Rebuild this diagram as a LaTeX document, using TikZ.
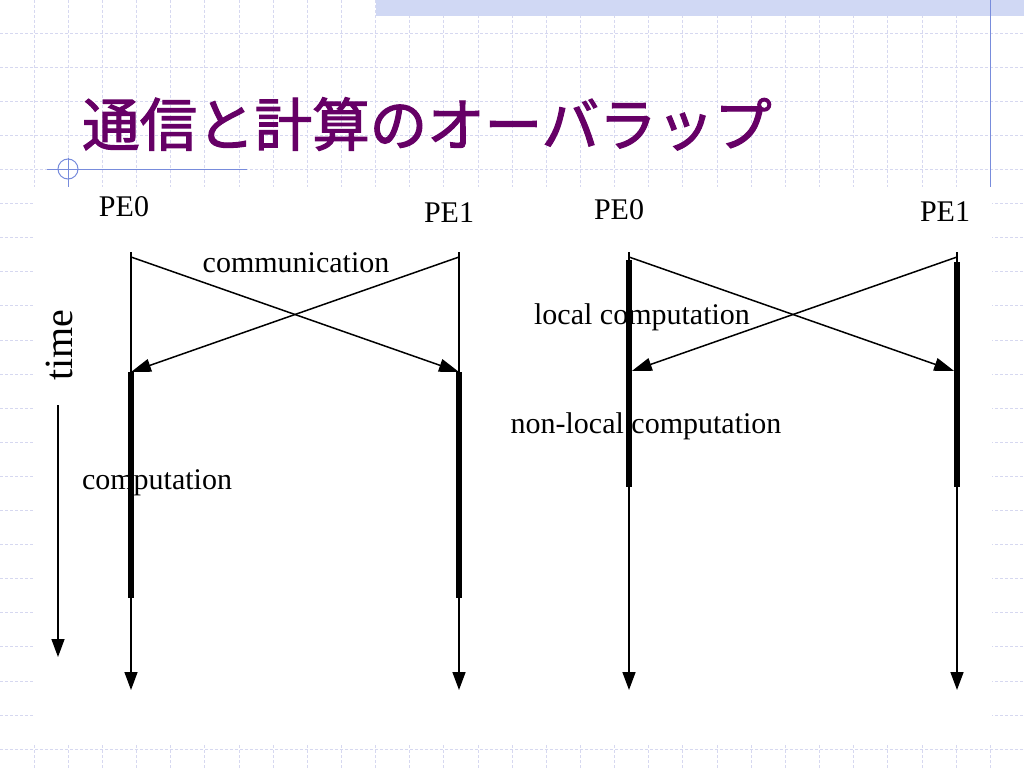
\documentclass[tikz,border=0pt]{standalone}
\usepackage{fontspec}
\setmainfont{Liberation Serif}
\newfontfamily\jpfont[FakeBold=2]{Noto Sans CJK JP}
\usetikzlibrary{arrows.meta,positioning}
\definecolor{titlepurple}{RGB}{102,0,102}
\definecolor{gridblue}{RGB}{214,216,240}
\definecolor{bandblue}{RGB}{208,216,244}
\definecolor{rulerblue}{RGB}{120,140,220}

\begin{document}
\begin{tikzpicture}[x=1pt,y=-1pt,node distance=328pt,on grid,
  lbl/.style={font=\fontsize{30}{30}\selectfont,inner sep=0pt},
  life/.style={line width=1.5pt,-{Triangle[length=18pt,width=13pt]}},
  busy/.style={line width=6pt},
  msg/.style={line width=1.5pt,-{Triangle[length=20pt,width=13pt]}}]
   \useasboundingbox (0,0) rectangle (1024,768);
   % slide background
   \fill[white] (0,0) rectangle (1024,768);
   \foreach \i in {0,...,29}
      \draw[gridblue,densely dashed,line width=0.8pt] ({34+34.15*\i},0) -- ({34+34.15*\i},768);
   \foreach \j in {0,...,21}
      \draw[gridblue,densely dashed,line width=0.8pt] (0,{33+34.1*\j}) -- (1024,{33+34.1*\j});
   \fill[white] (34,187) rectangle (992,743);
   \fill[bandblue] (376,0) rectangle (1024,16);
   \draw[rulerblue,line width=1pt] (990,0) -- (990,187);
   \draw[rulerblue,line width=1pt] (47,169) -- (247,169);
   \draw[rulerblue,line width=1pt] (68,158) -- (68,187);
   \draw[rulerblue,line width=1pt] (68,169) circle (10);

   \node[anchor=base west,inner sep=0pt,text=titlepurple,font=\jpfont\fontsize{57.5}{57.5}\selectfont] (title) at (82,146) {通信と計算のオーバラップ};

   % left: communication, then computation
   \coordinate (a0) at (131,252);
   \node[coordinate] (a1) [right=of a0] {};
   \coordinate (a0e) at (131,690);
   \coordinate (a1e) at (459,690);
   \coordinate (a0s) at (131,257);
   \coordinate (a1s) at (459,257);
   \coordinate (a0r) at (131,372);
   \coordinate (a1r) at (459,372);
   \coordinate (a0c) at (131,598);
   \coordinate (a1c) at (459,598);

   \node[lbl] (pe0a) at (124,207) {PE0};
   \node[lbl] (pe1a) at (449,213) {PE1};
   \node[lbl] (comm) at (296,263) {communication};
   \node[lbl,anchor=base] (compa) at (157,489) {computation};
   \node[anchor=base,inner sep=0pt,rotate=90,font=\fontsize{40}{40}\selectfont] (time) at (72,345) {time};
   \coordinate (t0) at (58,405);
   \coordinate (t1) at (58,657);

   \draw[life] (a0) -- (a0e);
   \draw[life] (a1) -- (a1e);
   \draw[life] (t0) -- (t1);
   \draw[busy] (a0r) -- (a0c);
   \draw[busy] (a1r) -- (a1c);
   \path[msg]
    (a0s) edge (a1r)
    (a1s) edge (a0r);

   % right: overlapped
   \coordinate (b0) at (629,252);
   \node[coordinate] (b1) [right=of b0] {};
   \coordinate (b0e) at (629,690);
   \coordinate (b1e) at (957,690);
   \coordinate (b0s) at (629,257);
   \coordinate (b1s) at (957,257);
   \coordinate (b0r) at (629,372);
   \coordinate (b1r) at (957,372);
   \coordinate (b0t) at (629,260);
   \coordinate (b1t) at (957,262);
   \coordinate (b0c) at (629,487);
   \coordinate (b1c) at (957,487);

   \node[lbl] (pe0b) at (619,210) {PE0};
   \node[lbl] (pe1b) at (945,212) {PE1};
   \node[lbl,anchor=base] (local) at (642,324) {local computation};
   \node[lbl,anchor=base] (nonlocal) at (646,433) {non-local computation};

   \draw[life] (b0) -- (b0e);
   \draw[life] (b1) -- (b1e);
   \draw[busy] (b0t) -- (b0c);
   \draw[busy] (b1t) -- (b1c);
   \path[msg,shorten >=3pt]
    (b0s) edge (b1r)
    (b1s) edge (b0r);
\end{tikzpicture}
\end{document}
